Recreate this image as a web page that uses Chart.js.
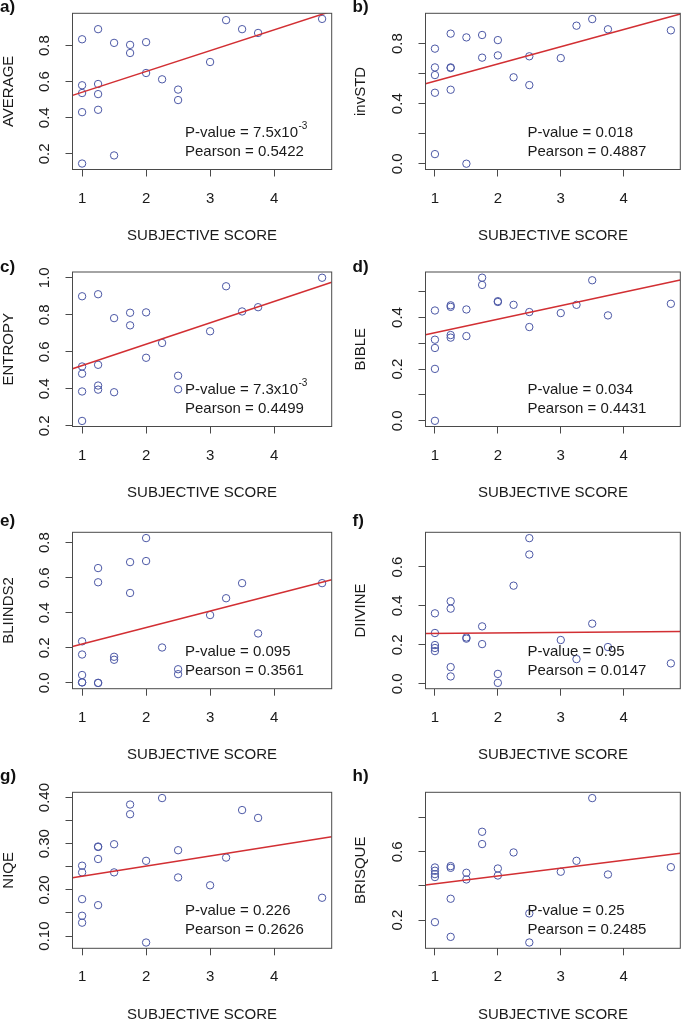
<!DOCTYPE html>
<html>
<head>
<meta charset="utf-8">
<script src="https://cdn.jsdelivr.net/npm/chart.js@4/dist/chart.umd.min.js"></script>
<style>
  body { margin: 0; background: #fff; width: 685px; height: 1020px; position: relative; overflow: hidden;
         font-family: "Liberation Sans", Arial, sans-serif; }
  canvas { position: absolute; }
  .tag { position: absolute; font-weight: bold; font-size: 17px; line-height: 17px; color: #111; }
</style>
</head>
<body>
<script>
// x values shared by all panels (subjective score of each image)
const subjectiveScore = [1, 1, 1, 1, 1, 1.25, 1.25, 1.25, 1.25, 1.5, 1.5, 1.75, 1.75, 2, 2, 2.25, 2.5, 2.5, 3, 3.25, 3.5, 3.75, 4.75];
const xTicks = [1, 2, 3, 4];
const xLimits = [0.85, 4.9];

const metricNames = ['AVERAGE', 'invSTD', 'ENTROPY', 'BIBLE', 'BLIINDS2', 'DIIVINE', 'NIQE', 'BRISQUE'];
const panelTags = ['a)', 'b)', 'c)', 'd)', 'e)', 'f)', 'g)', 'h)'];

// metric values, same order as subjectiveScore
const average  = [0.835, 0.580, 0.537, 0.431, 0.146, 0.891, 0.587, 0.531, 0.444, 0.815, 0.191, 0.804, 0.759, 0.819, 0.648, 0.613, 0.556, 0.498, 0.709, 0.941, 0.891, 0.870, 0.948];
const invStd   = [0.767, 0.642, 0.591, 0.473, 0.064, 0.867, 0.642, 0.638, 0.493, 0.842, 0.000, 0.858, 0.707, 0.824, 0.722, 0.576, 0.716, 0.524, 0.704, 0.920, 0.964, 0.896, 0.889];
const entropy  = [0.900, 0.521, 0.482, 0.386, 0.227, 0.911, 0.530, 0.418, 0.396, 0.782, 0.382, 0.811, 0.743, 0.813, 0.568, 0.648, 0.471, 0.398, 0.711, 0.954, 0.818, 0.841, 1.000];
const bible    = [0.427, 0.314, 0.282, 0.201, 0.000, 0.447, 0.441, 0.332, 0.322, 0.431, 0.328, 0.554, 0.526, 0.463, 0.460, 0.449, 0.421, 0.363, 0.417, 0.449, 0.544, 0.408, 0.453];
const bliinds2 = [0.237, 0.162, 0.045, 0.003, 0.003, 0.655, 0.574, 0.000, 0.000, 0.149, 0.132, 0.689, 0.513, 0.826, 0.695, 0.202, 0.078, 0.050, 0.387, 0.483, 0.569, 0.282, 0.569];
const diivine  = [0.362, 0.261, 0.199, 0.184, 0.168, 0.424, 0.386, 0.086, 0.038, 0.238, 0.232, 0.295, 0.204, 0.051, 0.005, 0.504, 0.748, 0.664, 0.225, 0.127, 0.309, 0.189, 0.105];
const niqe     = [0.2525, 0.238, 0.180, 0.144, 0.129, 0.294, 0.293, 0.267, 0.167, 0.299, 0.238, 0.385, 0.364, 0.263, 0.086, 0.399, 0.286, 0.227, 0.210, 0.270, 0.373, 0.356, 0.183];
const brisque  = [0.508, 0.489, 0.469, 0.452, 0.188, 0.516, 0.506, 0.325, 0.102, 0.477, 0.438, 0.717, 0.645, 0.502, 0.461, 0.596, 0.239, 0.069, 0.483, 0.547, 0.914, 0.467, 0.510];
const metricValues = [average, invStd, entropy, bible, bliinds2, diivine, niqe, brisque];

// y axis limits and ticks
const yMin = [0.113, -0.0386, 0.197, -0.022, -0.033, -0.025, 0.0735, 0.035];
const yMax = [0.979, 1.0026, 1.031, 0.576, 0.859, 0.778, 0.4115, 0.948];
const yTickValues = [
  [0.2, 0.4, 0.6, 0.8],
  [0, 0.2, 0.4, 0.6, 0.8],
  [0.2, 0.4, 0.6, 0.8, 1.0],
  [0, 0.1, 0.2, 0.3, 0.4, 0.5],
  [0, 0.2, 0.4, 0.6, 0.8],
  [0, 0.2, 0.4, 0.6],
  [0.10, 0.15, 0.20, 0.25, 0.30, 0.35, 0.40],
  [0.2, 0.4, 0.6, 0.8]
];
const yTickLabels = [
  ['0.2', '0.4', '0.6', '0.8'],
  ['0.0', '', '0.4', '', '0.8'],
  ['0.2', '0.4', '0.6', '0.8', '1.0'],
  ['0.0', '', '0.2', '', '0.4', ''],
  ['0.0', '0.2', '0.4', '0.6', '0.8'],
  ['0.0', '0.2', '0.4', '0.6'],
  ['0.10', '', '0.20', '', '0.30', '', '0.40'],
  ['0.2', '', '0.6', '']
];

// regression line, y at xLimits[0] and xLimits[1]
const fitStart = [0.524, 0.533, 0.509, 0.333, 0.208, 0.259, 0.2266, 0.405];
const fitEnd   = [0.991, 0.998, 0.976, 0.545, 0.588, 0.269, 0.3153, 0.591];

const pValues   = ['7.5x10', '0.018', '7.3x10', '0.034', '0.095', '0.95', '0.226', '0.25'];
const pValueExp = ['-3', '', '-3', '', '', '', '', ''];
const pearsons  = ['0.5422', '0.4887', '0.4499', '0.4431', '0.3561', '0.0147', '0.2626', '0.2485'];

// page layout (pixels)
const colCanvasLeft = [0, 352];
const colCanvasWidth = [340, 333];
const colBoxLeft = [72.5, 425.5];
const colBoxRight = [331.7, 682.5];
const colTextOffset = [112.5, 102];
const rowBoxTop = [13.3, 272, 532.3, 792.3];
const rowBoxBottom = [169.5, 426.5, 688.7, 948.3];
const rowTagTop = [-2.5, 258, 511.5, 766.5];

const FONT = '"Liberation Sans", Arial, sans-serif';
const textColor = '#1a1a1a';
const axisColor = '#4a4a4a';
const pointColor = '#4b57a5';
const lineColor = '#d22f33';

Chart.defaults.font.family = FONT;
Chart.defaults.font.size = 15;
Chart.defaults.color = textColor;

// box, rotated y tick labels and the stats text, like R's base graphics
const rPlotExtras = {
  id: 'rPlotExtras',
  afterDraw(chart, args, opts) {
    const { ctx, chartArea: a, scales } = chart;
    ctx.save();
    ctx.strokeStyle = axisColor;
    ctx.lineWidth = 1;
    ctx.strokeRect(a.left, a.top, a.right - a.left, a.bottom - a.top);

    ctx.fillStyle = textColor;
    ctx.font = '15px ' + FONT;
    ctx.textAlign = 'center';
    ctx.textBaseline = 'middle';
    opts.ticks.forEach((v, k) => {
      const label = opts.labels[k];
      if (!label) return;
      const y = scales.y.getPixelForValue(v);
      ctx.save();
      ctx.translate(a.left - 28, y);
      ctx.rotate(-Math.PI / 2);
      ctx.fillText(label, 0, 0);
      ctx.restore();
    });

    ctx.textAlign = 'left';
    const tx = a.left + opts.textOffset;
    const main = 'P-value = ' + opts.p;
    ctx.fillText(main, tx, a.bottom - 37);
    if (opts.exp) {
      const w = ctx.measureText(main).width;
      ctx.font = '10px ' + FONT;
      ctx.fillText(opts.exp, tx + w + 0.5, a.bottom - 43);
      ctx.font = '15px ' + FONT;
    }
    ctx.fillText('Pearson = ' + opts.r, tx, a.bottom - 18);
    ctx.restore();
  }
};

function drawPanel(i) {
  const col = i % 2;
  const row = Math.floor(i / 2);

  const canvasTop = Math.floor(rowBoxTop[row] - 13);
  const padTop = rowBoxTop[row] - canvasTop;
  const height = Math.ceil(rowBoxBottom[row] + 75 - canvasTop);
  const xAxisHeight = canvasTop + height - rowBoxBottom[row];
  const width = colCanvasWidth[col];
  const yAxisWidth = colBoxLeft[col] - colCanvasLeft[col];
  const padRight = colCanvasLeft[col] + width - colBoxRight[col];

  const canvas = document.createElement('canvas');
  canvas.width = width;
  canvas.height = height;
  canvas.style.left = colCanvasLeft[col] + 'px';
  canvas.style.top = canvasTop + 'px';
  canvas.style.width = width + 'px';
  canvas.style.height = height + 'px';
  document.body.appendChild(canvas);

  const tag = document.createElement('div');
  tag.className = 'tag';
  tag.textContent = panelTags[i];
  tag.style.left = (colCanvasLeft[col] === 0 ? 0 : 352.5) + 'px';
  tag.style.top = rowTagTop[row] + 'px';
  document.body.appendChild(tag);

  const values = metricValues[i];

  new Chart(canvas, {
    type: 'scatter',
    data: {
      datasets: [
        {
          type: 'line',
          data: [{ x: xLimits[0], y: fitStart[i] }, { x: xLimits[1], y: fitEnd[i] }],
          borderColor: lineColor,
          borderWidth: 1.5,
          pointRadius: 0,
          showLine: true,
          fill: false
        },
        {
          data: subjectiveScore.map((s, k) => ({ x: s, y: values[k] })),
          pointStyle: 'circle',
          pointRadius: 3.7,
          pointHoverRadius: 3.7,
          borderWidth: 1,
          borderColor: pointColor,
          backgroundColor: 'rgba(0,0,0,0)'
        }
      ]
    },
    options: {
      responsive: false,
      animation: false,
      events: [],
      layout: { padding: { top: padTop, right: padRight, left: 0, bottom: 0 } },
      plugins: {
        legend: { display: false },
        tooltip: { enabled: false },
        rPlotExtras: {
          ticks: yTickValues[i],
          labels: yTickLabels[i],
          textOffset: colTextOffset[col],
          p: pValues[i],
          exp: pValueExp[i],
          r: pearsons[i]
        }
      },
      scales: {
        x: {
          type: 'linear',
          min: xLimits[0],
          max: xLimits[1],
          afterBuildTicks: s => { s.ticks = xTicks.map(v => ({ value: v })); },
          afterFit: s => { s.height = xAxisHeight; },
          border: { display: false },
          grid: { drawOnChartArea: false, drawTicks: true, tickLength: 7, color: axisColor, tickColor: axisColor },
          ticks: { padding: 13, color: textColor, font: { size: 15 }, callback: v => String(v) },
          title: { display: true, text: 'SUBJECTIVE SCORE', color: textColor, font: { size: 15 }, padding: 0 }
        },
        y: {
          type: 'linear',
          min: yMin[i],
          max: yMax[i],
          afterBuildTicks: s => { s.ticks = yTickValues[i].map(v => ({ value: v })); },
          afterFit: s => { s.width = yAxisWidth; },
          border: { display: false },
          grid: { drawOnChartArea: false, drawTicks: true, tickLength: 7, color: axisColor, tickColor: axisColor },
          ticks: { display: false },
          title: { display: true, text: metricNames[i], color: textColor, font: { size: 15 }, padding: 0 }
        }
      }
    },
    plugins: [rPlotExtras]
  });
}

for (let i = 0; i < 8; i++) drawPanel(i);
</script>
</body>
</html>
